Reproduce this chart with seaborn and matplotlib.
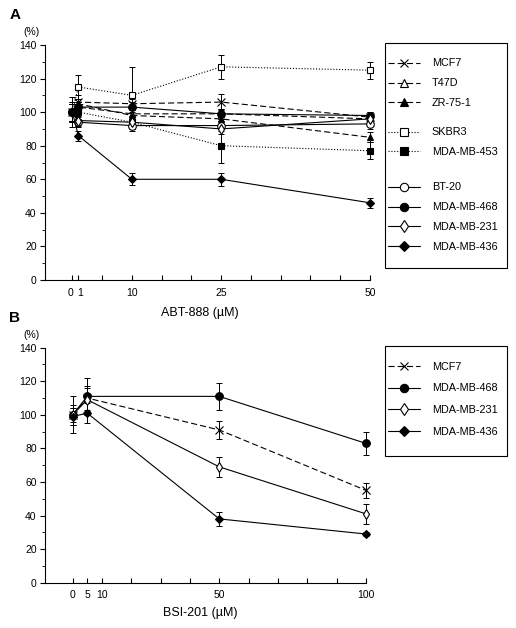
import pandas as pd
import matplotlib
matplotlib.use("Agg")
import matplotlib.pyplot as plt
from matplotlib.lines import Line2D
from matplotlib.patches import Rectangle
from matplotlib.transforms import ScaledTranslation
import seaborn as sns

# ---- data: panel A (ABT-888) ----
abt_dose = [0, 1, 10, 25, 50]
abt_mcf7 = [100, 106, 105, 106, 97]
abt_t47d = [100, 103, 99, 99, 96]
abt_zr751 = [100, 105, 98, 96, 85]
abt_skbr3 = [100, 115, 110, 127, 125]
abt_mdamb453 = [100, 100, 94, 80, 77]
abt_bt20 = [100, 94, 92, 92, 93]
abt_mdamb468 = [100, 103, 103, 99, 98]
abt_mdamb231 = [100, 95, 94, 90, 96]
abt_mdamb436 = [100, 86, 60, 60, 46]

abt_mcf7_sd = [6, 4, 3, 5, 3]
abt_t47d_sd = [5, 3, 3, 3, 3]
abt_zr751_sd = [5, 3, 3, 3, 3]
abt_skbr3_sd = [5, 7, 17, 7, 5]
abt_mdamb453_sd = [5, 4, 4, 10, 5]
abt_bt20_sd = [9, 3, 3, 3, 3]
abt_mdamb468_sd = [5, 3, 3, 3, 2]
abt_mdamb231_sd = [6, 3, 3, 3, 3]
abt_mdamb436_sd = [5, 3, 3.5, 4, 3]

# ---- data: panel B (BSI-201) ----
bsi_dose = [0, 5, 50, 100]
bsi_mcf7 = [100, 110, 91, 55]
bsi_mdamb468 = [100, 111, 111, 83]
bsi_mdamb231 = [100, 109, 69, 41]
bsi_mdamb436 = [99, 101, 38, 29]

bsi_mcf7_sd = [11, 7, 5.5, 4.5]
bsi_mdamb468_sd = [6, 11, 8, 7]
bsi_mdamb231_sd = [4, 7, 6, 6]
bsi_mdamb436_sd = [5, 6, 4, 1]

abt_names = ["MCF7", "T47D", "ZR-75-1", "SKBR3", "MDA-MB-453",
             "BT-20", "MDA-MB-468", "MDA-MB-231", "MDA-MB-436"]
abt_vals = [abt_mcf7, abt_t47d, abt_zr751, abt_skbr3, abt_mdamb453,
            abt_bt20, abt_mdamb468, abt_mdamb231, abt_mdamb436]
abt_sds = [abt_mcf7_sd, abt_t47d_sd, abt_zr751_sd, abt_skbr3_sd, abt_mdamb453_sd,
           abt_bt20_sd, abt_mdamb468_sd, abt_mdamb231_sd, abt_mdamb436_sd]

bsi_names = ["MCF7", "MDA-MB-468", "MDA-MB-231", "MDA-MB-436"]
bsi_vals = [bsi_mcf7, bsi_mdamb468, bsi_mdamb231, bsi_mdamb436]
bsi_sds = [bsi_mcf7_sd, bsi_mdamb468_sd, bsi_mdamb231_sd, bsi_mdamb436_sd]


def long_table(dose, names, vals, sds):
    rows = []
    for n, v, s in zip(names, vals, sds):
        for d, y, e in zip(dose, v, s):
            rows.append({"dose": d, "line": n, "pct": y, "sd": e})
    return pd.DataFrame(rows)


df_a = long_table(abt_dose, abt_names, abt_vals, abt_sds)
df_b = long_table(bsi_dose, bsi_names, bsi_vals, bsi_sds)

# line styles per cell line
DASH = (0, (5.5, 2.8))
DOT = (0, (1, 1.6))
STYLE = {
    "MCF7": dict(ls=DASH, marker="x", mfc="none", ms=5.5),
    "T47D": dict(ls=DASH, marker="^", mfc="white", ms=5),
    "ZR-75-1": dict(ls=DASH, marker="^", mfc="black", ms=5),
    "SKBR3": dict(ls=DOT, marker="s", mfc="white", ms=5),
    "MDA-MB-453": dict(ls=DOT, marker="s", mfc="black", ms=5),
    "BT-20": dict(ls="-", marker="o", mfc="white", ms=5.5),
    "MDA-MB-468": dict(ls="-", marker="o", mfc="black", ms=5.5),
    "MDA-MB-231": dict(ls="-", marker="d", mfc="white", ms=5.5),
    "MDA-MB-436": dict(ls="-", marker="D", mfc="black", ms=4.5),
}

sns.set_style("ticks", {"axes.edgecolor": "black", "xtick.color": "black",
                        "ytick.color": "black", "text.color": "black",
                        "axes.labelcolor": "black"})
plt.rcParams["font.family"] = ["Liberation Sans", "DejaVu Sans"]

W, H = 516, 628
fig = plt.figure(figsize=(W / 100, H / 100), dpi=100)
axA = fig.add_axes([45 / W, 1 - 280 / H, (370 - 45) / W, 235 / H])
axB = fig.add_axes([45 / W, 1 - 582.7 / H, (366 - 45) / W, 235 / H])


def draw(ax, df, names):
    for n in names:
        sub = df[df["line"] == n]
        st = STYLE[n]
        ax.errorbar(sub["dose"], sub["pct"], yerr=sub["sd"], fmt="none",
                    ecolor="black", elinewidth=0.7, capsize=2.2, capthick=0.7,
                    zorder=2, clip_on=False)
        sns.lineplot(data=sub, x="dose", y="pct", ax=ax, color="black",
                     linestyle=st["ls"], linewidth=0.8, marker=st["marker"],
                     markersize=st["ms"], markerfacecolor=st["mfc"],
                     markeredgecolor="black", markeredgewidth=0.8,
                     errorbar=None, legend=False, zorder=3, clip_on=False)


def style_axes(ax, xlim, ticks, labels):
    ax.set_xlim(*xlim)
    ax.set_ylim(0, 140)
    ax.set_xticks(ticks)
    ax.set_xticklabels(labels)
    ax.set_yticks(range(0, 141, 20))
    ax.set_yticks(range(10, 140, 20), minor=True)
    ax.tick_params(axis="x", direction="in", length=3.4, width=0.8, pad=5.5,
                   labelsize=7.5)
    ax.tick_params(axis="y", which="major", direction="out", length=3.6,
                   width=0.8, pad=2.4, labelsize=7.5)
    ax.tick_params(axis="y", which="minor", direction="out", length=2,
                   width=0.6)
    for s in ["left", "bottom"]:
        ax.spines[s].set_linewidth(0.8)
    sns.despine(ax=ax)
    ax.set_ylabel("")


def handle(n):
    st = STYLE[n]
    return Line2D([], [], color="black", linestyle=st["ls"], linewidth=0.8,
                  marker=st["marker"], markersize=st["ms"] + 0.5,
                  markerfacecolor=st["mfc"], markeredgecolor="black",
                  markeredgewidth=0.8)


def legend_group(names, ycenter, spacing):
    return fig.legend([handle(n) for n in names], names, loc="center left",
                      bbox_to_anchor=(388 / W, 1 - ycenter / H), frameon=False,
                      fontsize=7.8, borderpad=0, borderaxespad=0, handlelength=2.95,
                      handletextpad=1.08, labelspacing=spacing)


def legend_frame(y0, y1):
    fig.add_artist(Rectangle((385 / W, 1 - y1 / H), (507 - 385) / W, (y1 - y0) / H,
                             transform=fig.transFigure, fill=False,
                             edgecolor="black", linewidth=0.8))


# Panel A
draw(axA, df_a, abt_names)
a_ticks = [0, 1, 5, 10, 15, 20, 25, 30, 35, 40, 45, 50]
a_labels = [str(t) if t in (0, 1, 10, 25, 50) else "" for t in a_ticks]
style_axes(axA, (-4.6, 50), a_ticks, a_labels)
axA.set_xlabel("ABT-888 (\u00b5M)", fontsize=9)
axA.xaxis.set_label_coords(0.475, -0.113)
# spread the crowded "0" and "1" labels a little
tl = axA.get_xticklabels()
tl[0].set_transform(tl[0].get_transform() + ScaledTranslation(-1.5 / 72, 0, fig.dpi_scale_trans))
tl[1].set_transform(tl[1].get_transform() + ScaledTranslation(1.5 / 72, 0, fig.dpi_scale_trans))

# Panel B
draw(axB, df_b, bsi_names)
b_ticks = [0, 5, 10, 20, 30, 40, 50, 60, 70, 80, 90, 100]
b_labels = [str(t) if t in (0, 5, 10, 50, 100) else "" for t in b_ticks]
style_axes(axB, (-9.4, 100), b_ticks, b_labels)
axB.set_xlabel("BSI-201 (\u00b5M)", fontsize=9)
axB.xaxis.set_label_coords(0.484, -0.103)

# Legends
legend_frame(42.7, 268)
legend_group(abt_names[:3], 83.3, 0.92)
legend_group(abt_names[3:5], 142.3, 0.92)
legend_group(abt_names[5:], 217.3, 0.92)

legend_frame(345.7, 456)
legend_group(bsi_names, 399.2, 1.08)

# Labels
fig.text(31 / W, 1 - 32 / H, "(%)", fontsize=7.5, ha="center", va="center")
fig.text(31 / W, 1 - 334.5 / H, "(%)", fontsize=7.5, ha="center", va="center")
fig.text(15.5 / W, 1 - 15 / H, "A", fontsize=11, fontweight="bold",
         ha="center", va="center")
fig.text(14.5 / W, 1 - 318 / H, "B", fontsize=11, fontweight="bold",
         ha="center", va="center")

fig.savefig("out.png", dpi=100)
